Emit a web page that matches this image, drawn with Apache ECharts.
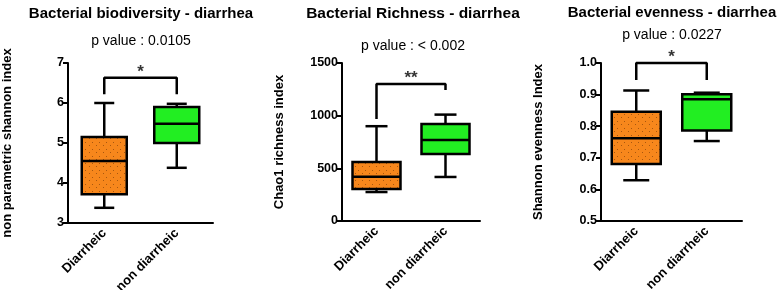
<!DOCTYPE html>
<html>
<head>
<meta charset="utf-8">
<script src="https://cdn.jsdelivr.net/npm/echarts@6/dist/echarts.min.js"></script>
<style>
  html, body { margin: 0; padding: 0; background: #fff; }
  #chart { width: 778px; height: 290px; }
</style>
</head>
<body>
<div id="chart"></div>
<script>
// categories
const groups = ['Diarrheic', 'non diarrheic'];

// box values per group: [min, q1, median, q3, max]
const shannonBox = [[3.38, 3.72, 4.55, 5.15, 6.0], [4.38, 5.0, 5.48, 5.9, 5.98]];
const chaoBox = [[275, 303, 420, 560, 900], [418, 636, 769, 920, 1010]];
const evennessBox = [[0.629, 0.680, 0.762, 0.846, 0.913], [0.753, 0.786, 0.885, 0.901, 0.906]];

// significance bracket: [left leg bottom, top, right leg bottom]
const shannonBracket = [6.22, 6.63, 6.22];
const chaoBracket = [968, 1300, 1243];
const evennessBracket = [0.946, 1.0, 0.946];

const titles = ['Bacterial biodiversity - diarrhea', 'Bacterial Richness - diarrhea', 'Bacterial evenness - diarrhea'];
const pValues = ['p value : 0.0105', 'p value : < 0.002', 'p value : 0.0227'];
const stars = ['*', '**', '*'];
const yNames = ['non parametric shannon index', 'Chao1 richness index', 'Shannon evenness Index'];
const yRanges = [[3, 7, 1], [0, 1500, 500], [0.5, 1.0, 0.1]];

const font = 'Liberation Sans, Arial, sans-serif';
const colors = ['#f7871c', '#22ee22'];

// dotted fill for the orange boxes
function dotPattern() {
    const c = document.createElement('canvas');
    c.width = 7; c.height = 7;
    const ctx = c.getContext('2d');
    ctx.fillStyle = colors[0];
    ctx.fillRect(0, 0, 7, 7);
    ctx.fillStyle = 'rgba(90,40,0,0.5)';
    ctx.fillRect(1, 2, 1, 1);
    ctx.fillRect(5, 5, 1, 1);
    return c;
}
const orangeFill = { image: dotPattern(), repeat: 'repeat' };

const panels = [
    { box: shannonBox, bracket: shannonBracket, grid: { left: 68, width: 145, top: 63, bottom: 67 }, boxW: 45, capW: 20, fmt: v => v, gap: 54, title: 136, tSize: 15, pTop: 29, tTop: 1 },
    { box: chaoBox, bracket: chaoBracket, grid: { left: 342, width: 138, top: 63, bottom: 69 }, boxW: 48, capW: 22, fmt: v => v, gap: 56, title: 408, tSize: 15.5, pTop: 34, tTop: 1 },
    { box: evennessBox, bracket: evennessBracket, grid: { left: 601, width: 141, top: 63, bottom: 69 }, boxW: 49, capW: 26, fmt: v => v.toFixed(1), gap: 56, title: 667, tSize: 15, pTop: 23, tTop: 0 }
];

const chartInstance = echarts.init(document.getElementById('chart'));

const option = { animation: false, title: [], grid: [], xAxis: [], yAxis: [], series: [] };

panels.forEach((p, i) => {
    option.title.push({
        text: titles[i], left: p.title, top: p.tTop, textAlign: 'center',
        textStyle: { fontFamily: font, fontWeight: 'bold', fontSize: p.tSize, color: '#000' }
    });
    option.title.push({
        text: pValues[i], left: p.title, top: p.pTop, textAlign: 'center',
        textStyle: { fontFamily: font, fontWeight: 'normal', fontSize: 14, color: '#000' }
    });
    option.grid.push(Object.assign({ outerBoundsMode: 'none', containLabel: false }, p.grid));
    option.xAxis.push({
        type: 'category', gridIndex: i, data: groups,
        axisLine: { onZero: false, lineStyle: { color: '#000', width: 2 } },
        axisTick: { alignWithLabel: true, length: 5, lineStyle: { color: '#000', width: 2 } },
        axisLabel: { rotate: 45, color: '#000', fontFamily: font, fontWeight: 'bold', fontSize: 13, margin: 8 },
        splitLine: { show: false }
    });
    option.xAxis.push({
        type: 'value', gridIndex: i, min: -0.5, max: 1.5, show: false
    });
    option.yAxis.push({
        type: 'value', gridIndex: i, min: yRanges[i][0], max: yRanges[i][1], interval: yRanges[i][2],
        name: yNames[i], nameLocation: 'middle', nameRotate: 90, nameGap: p.gap,
        nameTextStyle: { fontFamily: font, fontWeight: 'bold', fontSize: 13, color: '#000' },
        axisLine: { show: true, onZero: false, lineStyle: { color: '#000', width: 2 } },
        axisTick: { show: true, length: 5, lineStyle: { color: '#000', width: 2 } },
        axisLabel: { color: '#000', fontFamily: font, fontWeight: 'bold', fontSize: 12.5, margin: 4, formatter: p.fmt },
        splitLine: { show: false }
    });

    // box and whiskers
    option.series.push({
        type: 'custom', xAxisIndex: i * 2, yAxisIndex: i,
        data: p.box.map((b, k) => [k].concat(b)),
        renderItem: (params, api) => {
            const k = api.value(0);
            const cx = api.coord([k, 0])[0];
            const y = j => api.coord([k, api.value(j)])[1];
            const yMin = y(1), yQ1 = y(2), yMed = y(3), yQ3 = y(4), yMax = y(5);
            const hb = p.boxW / 2, hc = p.capW / 2;
            const line = { stroke: '#000', lineWidth: 2.5 };
            return {
                type: 'group',
                children: [
                    { type: 'line', shape: { x1: cx, y1: yMax, x2: cx, y2: yQ3 }, style: line },
                    { type: 'line', shape: { x1: cx, y1: yMin, x2: cx, y2: yQ1 }, style: line },
                    { type: 'line', shape: { x1: cx - hc, y1: yMax, x2: cx + hc, y2: yMax }, style: line },
                    { type: 'line', shape: { x1: cx - hc, y1: yMin, x2: cx + hc, y2: yMin }, style: line },
                    { type: 'rect', shape: { x: cx - hb, y: yQ3, width: p.boxW, height: yQ1 - yQ3 },
                      style: { fill: k === 0 ? orangeFill : colors[1], stroke: '#000', lineWidth: 2.5 } },
                    { type: 'line', shape: { x1: cx - hb, y1: yMed, x2: cx + hb, y2: yMed }, style: line }
                ]
            };
        }
    });

    // significance bracket
    option.series.push({
        type: 'line', xAxisIndex: i * 2 + 1, yAxisIndex: i,
        data: [[0, p.bracket[0]], [0, p.bracket[1]], [1, p.bracket[1]], [1, p.bracket[2]]],
        symbol: 'none', lineStyle: { color: '#000', width: 2.5 }, clip: false, silent: true
    });
    option.series.push({
        type: 'scatter', xAxisIndex: i * 2 + 1, yAxisIndex: i,
        data: [[0.5, p.bracket[1]]], symbolSize: 0, clip: false, silent: true,
        label: { show: true, position: 'top', distance: -3, formatter: stars[i],
                 fontFamily: font, fontWeight: 'bold', fontSize: 17, color: '#000' }
    });
});

chartInstance.setOption(option);
</script>
</body>
</html>
